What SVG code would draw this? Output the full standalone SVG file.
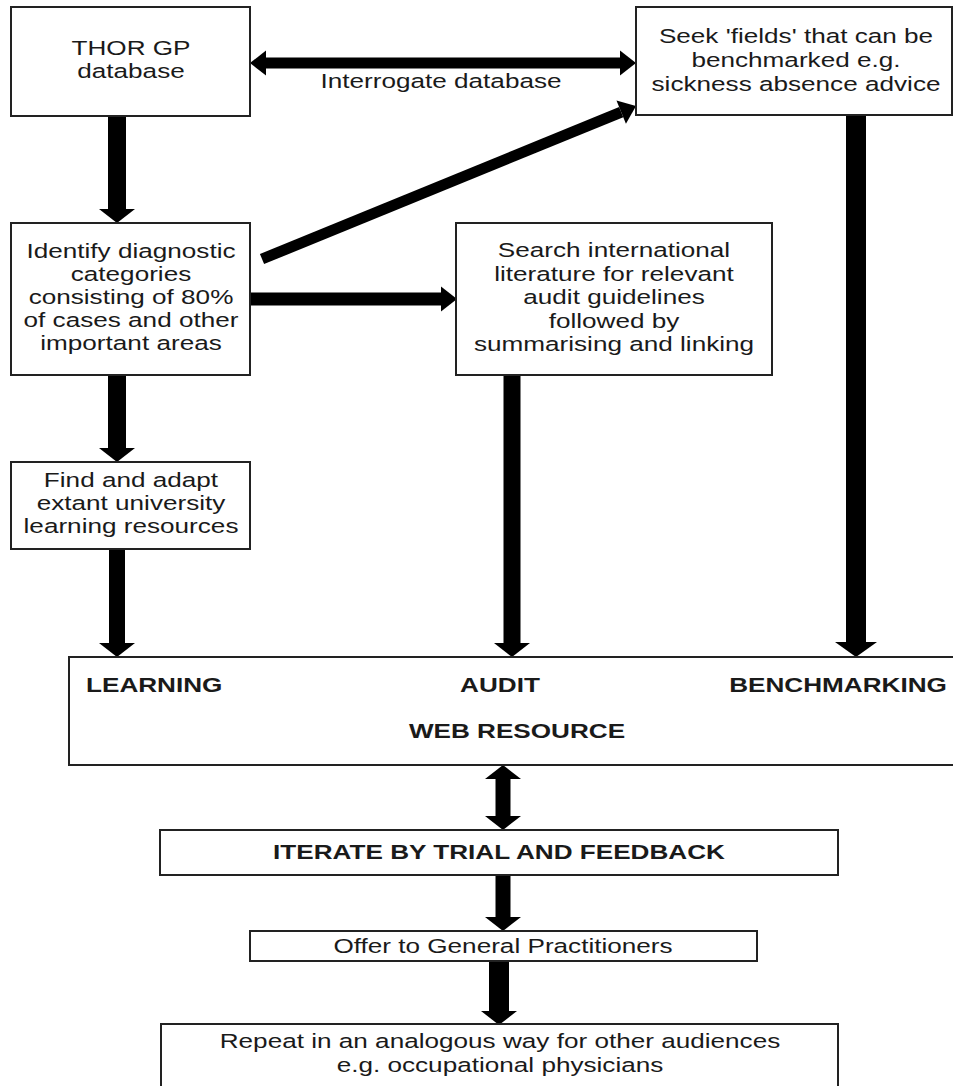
<svg xmlns="http://www.w3.org/2000/svg" width="953" height="1086" viewBox="0 0 953 1086">
<style>
.box{fill:#fff;stroke:#222;stroke-width:2}
.t{font-family:"Liberation Sans",Arial,sans-serif;font-size:19.5px;fill:#1a1a1a;text-anchor:middle}
.b{font-weight:bold}
.s{text-anchor:start}
.sh{stroke:#000;fill:none;stroke-linecap:butt}
.v{stroke-width:18}
.h{stroke-width:11}
</style>
<defs>
<marker id="vh" markerUnits="userSpaceOnUse" markerWidth="14" markerHeight="36" refX="0" refY="18" orient="auto-start-reverse" overflow="visible"><path d="M0,0 L14,18 L0,36 Z" fill="#000"/></marker>
<marker id="vhl" markerUnits="userSpaceOnUse" markerWidth="15" markerHeight="42" refX="0" refY="21" orient="auto" overflow="visible"><path d="M0,0 L15,21 L0,42 Z" fill="#000"/></marker>
<marker id="hh" markerUnits="userSpaceOnUse" markerWidth="16" markerHeight="25" refX="0" refY="12.5" orient="auto-start-reverse" overflow="visible"><path d="M0,0 L16,12.5 L0,25 Z" fill="#000"/></marker>
</defs>
<rect width="953" height="1086" fill="#fff"/>

<g id="connectors">
<line class="sh h" x1="266" y1="63" x2="620" y2="63" marker-start="url(#hh)" marker-end="url(#hh)"/>
<line class="sh h" x1="262" y1="259" x2="621.2" y2="112.1" marker-end="url(#hh)"/>
<line class="sh v" x1="117" y1="116" x2="117" y2="209" marker-end="url(#vh)"/>
<line class="sh" stroke-width="13" x1="250" y1="299" x2="441" y2="299" marker-end="url(#hh)"/>
<line class="sh v" x1="117" y1="375" x2="117" y2="448" marker-end="url(#vh)"/>
<line class="sh" stroke-width="16" x1="117" y1="549" x2="117" y2="643" marker-end="url(#vh)"/>
<line class="sh" stroke-width="17" x1="512" y1="375" x2="512" y2="643" marker-end="url(#vh)"/>
<line class="sh" stroke-width="20" x1="856" y1="115" x2="856" y2="642" marker-end="url(#vhl)"/>
<line class="sh" stroke-width="15" x1="503" y1="779" x2="503" y2="816" marker-start="url(#vh)" marker-end="url(#vh)"/>
<line class="sh" stroke-width="15" x1="503" y1="875" x2="503" y2="917" marker-end="url(#vh)"/>
<line class="sh" stroke-width="20" x1="499" y1="961" x2="499" y2="1011" marker-end="url(#vh)"/>
</g>

<g id="thor">
<rect class="box" x="11" y="7" width="239" height="109"/>
<g transform="translate(131 0) scale(1.34 1)">
<text class="t" x="0" y="55">THOR GP</text>
<text class="t" x="0" y="78">database</text>
</g>
</g>

<g id="interrogate-label" transform="translate(441 0) scale(1.34 1)">
<text class="t" x="0" y="88">Interrogate database</text>
</g>

<g id="seek">
<rect class="box" x="636" y="7" width="316" height="108"/>
<g transform="translate(796 0) scale(1.34 1)">
<text class="t" x="0" y="43">Seek 'fields' that can be</text>
<text class="t" x="0" y="67">benchmarked e.g.</text>
<text class="t" x="0" y="91">sickness absence advice</text>
</g>
</g>

<g id="identify">
<rect class="box" x="11" y="223" width="239" height="152"/>
<g transform="translate(131 0) scale(1.34 1)">
<text class="t" x="0" y="258">Identify diagnostic</text>
<text class="t" x="0" y="281">categories</text>
<text class="t" x="0" y="304">consisting of 80%</text>
<text class="t" x="0" y="327">of cases and other</text>
<text class="t" x="0" y="350">important areas</text>
</g>
</g>

<g id="search">
<rect class="box" x="456" y="223" width="316" height="152"/>
<g transform="translate(614 0) scale(1.34 1)">
<text class="t" x="0" y="257">Search international</text>
<text class="t" x="0" y="281">literature for relevant</text>
<text class="t" x="0" y="304">audit guidelines</text>
<text class="t" x="0" y="328">followed by</text>
<text class="t" x="0" y="351">summarising and linking</text>
</g>
</g>

<g id="find">
<rect class="box" x="11" y="462" width="239" height="87"/>
<g transform="translate(131 0) scale(1.34 1)">
<text class="t" x="0" y="487">Find and adapt</text>
<text class="t" x="0" y="510">extant university</text>
<text class="t" x="0" y="533">learning resources</text>
</g>
</g>

<g id="web-resource">
<rect class="box" x="69" y="657" width="890" height="108"/>
<g transform="translate(86 0) scale(1.34 1)"><text class="t b s" x="0" y="692">LEARNING</text></g>
<g transform="translate(500 0) scale(1.34 1)"><text class="t b" x="0" y="692">AUDIT</text></g>
<g transform="translate(838 0) scale(1.34 1)"><text class="t b" x="0" y="692">BENCHMARKING</text></g>
<g transform="translate(517 0) scale(1.34 1)"><text class="t b" x="0" y="738">WEB RESOURCE</text></g>
</g>

<g id="iterate">
<rect class="box" x="160" y="830" width="678" height="45"/>
<g transform="translate(499 0) scale(1.34 1)"><text class="t b" x="0" y="859">ITERATE BY TRIAL AND FEEDBACK</text></g>
</g>

<g id="offer">
<rect class="box" x="250" y="931" width="507" height="30"/>
<g transform="translate(503 0) scale(1.34 1)"><text class="t" x="0" y="953">Offer to General Practitioners</text></g>
</g>

<g id="repeat">
<rect class="box" x="161" y="1024" width="677" height="70"/>
<g transform="translate(500 0) scale(1.34 1)">
<text class="t" x="0" y="1048">Repeat in an analogous way for other audiences</text>
<text class="t" x="0" y="1072">e.g. occupational physicians</text>
</g>
</g>
</svg>
